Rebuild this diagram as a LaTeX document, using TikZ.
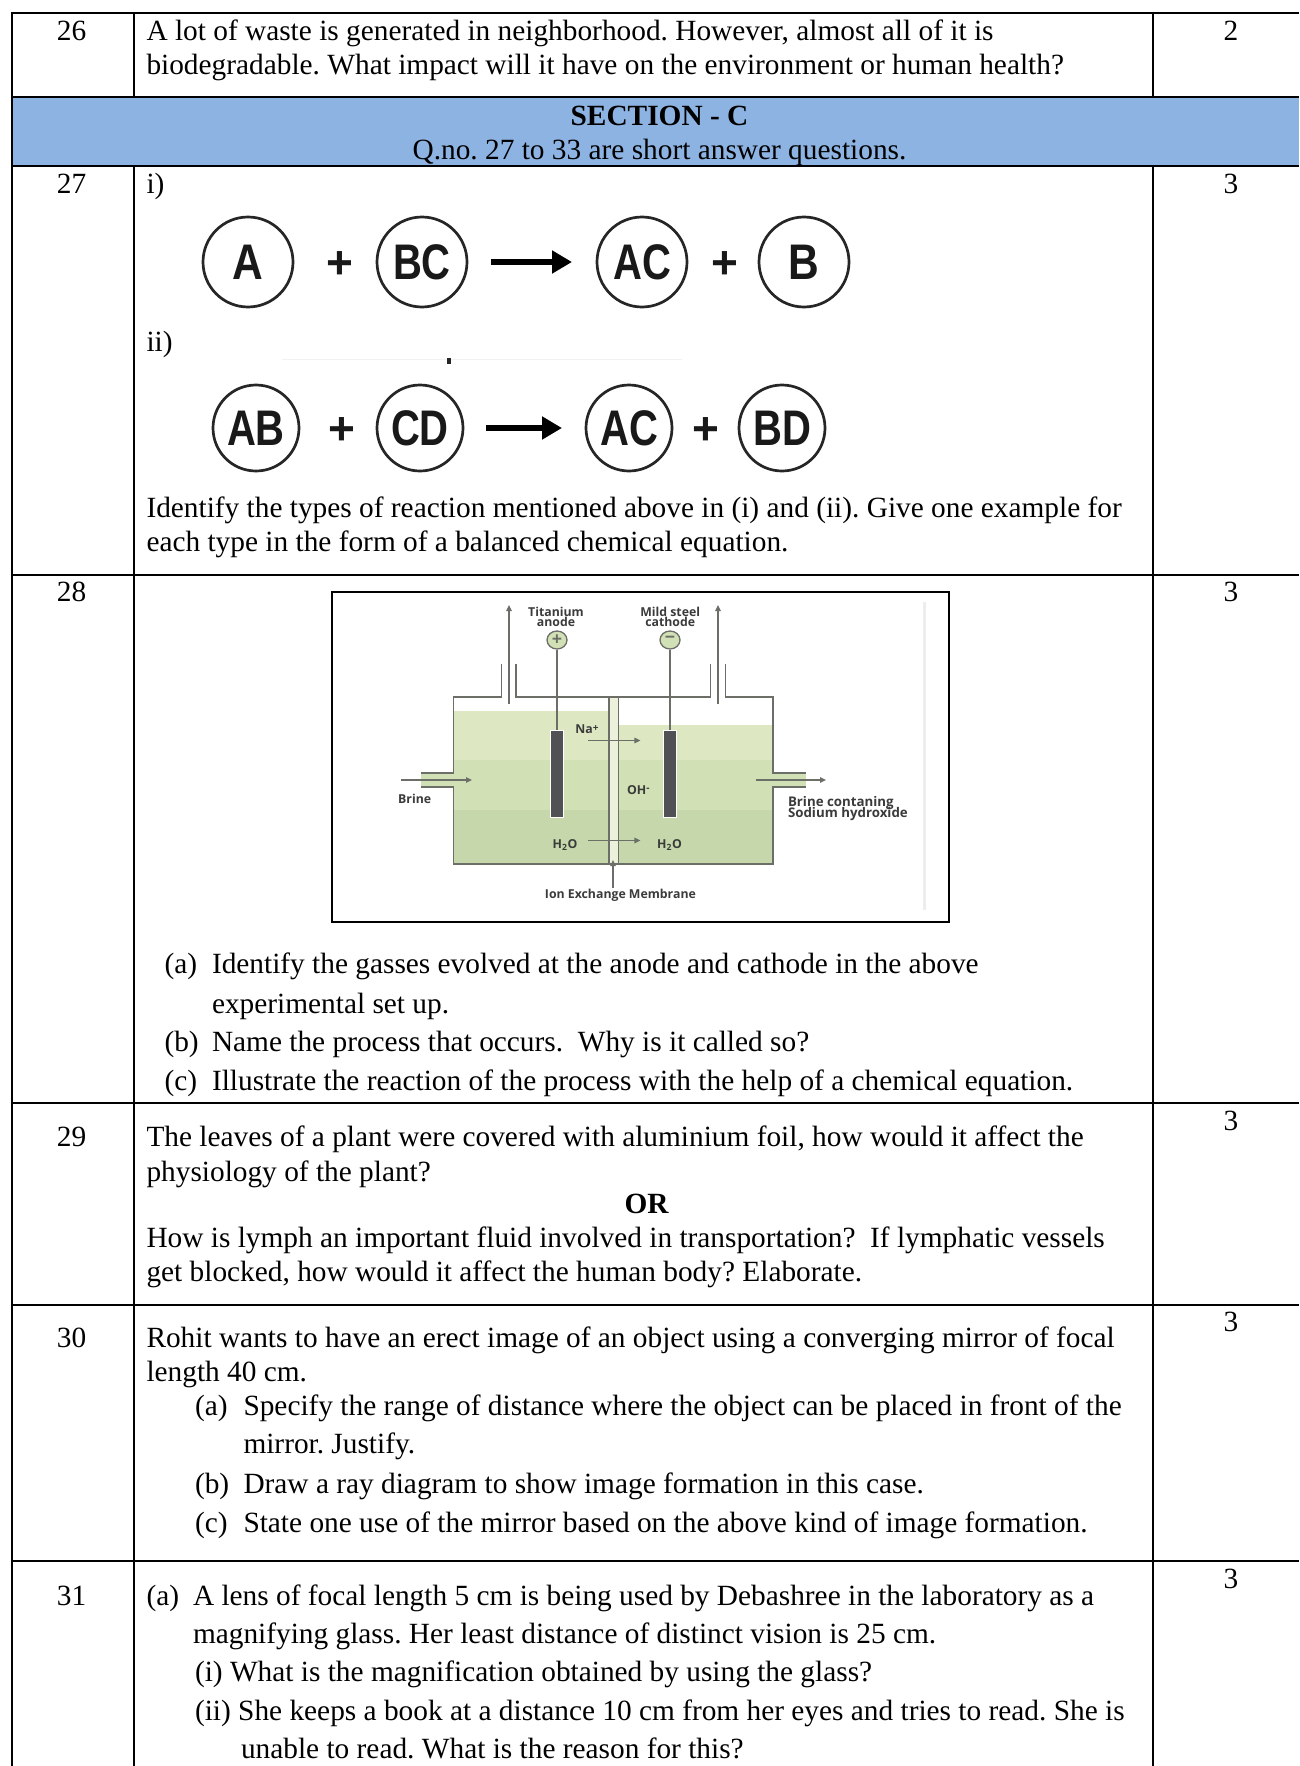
\documentclass[tikz,border=0pt]{standalone}
\usepackage{fontspec}
\setmainfont{Liberation Serif}
\newfontfamily\labfont{Open Sans}
\newfontfamily\circfont{Liberation Sans}
\usetikzlibrary{arrows.meta,shapes.geometric}
\definecolor{secblue}{HTML}{8DB3E2}
\definecolor{liqa}{HTML}{DDE8C3}
\definecolor{liqb}{HTML}{D2E0B6}
\definecolor{liqc}{HTML}{C6D7AB}
\definecolor{tankline}{HTML}{6B6F68}
\definecolor{labgrey}{HTML}{3A3C3A}
\definecolor{elec}{HTML}{505055}
\tikzset{
  body/.style={anchor=base west,yshift=-0.7pt,inner sep=0pt,outer sep=0pt,font=\fontsize{29.34}{33}\selectfont\frenchspacing},
  numc/.style={anchor=base,yshift=-0.7pt,inner sep=0pt,outer sep=0pt,font=\fontsize{29.34}{33}\selectfont\frenchspacing},
  rule/.style={line width=2pt,black},
  mol/.style={circle,draw=black!85,line width=2.7pt,inner sep=0pt,minimum size=#1,font=\circfont\bfseries\fontsize{50}{50}\selectfont,text=black!90},
  plus/.style={inner sep=0pt,font=\circfont\bfseries\fontsize{46}{46}\selectfont,text=black!90},
  rarrow/.style={line width=5.5pt,black,-{Triangle[length=20pt,width=22pt]}},
  tank/.style={line width=1.5pt,tankline},
  lab/.style={inner sep=0pt,outer sep=0pt,text=labgrey,font=\labfont\bfseries\fontsize{12.3}{12}\selectfont},
  labwide/.style={lab,anchor=west,font=\labfont\bfseries\fontsize{13.3}{13}\selectfont},
  flow/.style={line width=1.3pt,tankline,-{Triangle[length=6pt,width=5.5pt]}},
  term/.style={ellipse,draw=tankline,line width=1.3pt,fill=liqb,minimum width=20pt,minimum height=18pt,inner sep=0pt,text=tankline,font=\labfont\bfseries\fontsize{18}{18}\selectfont},
  rod/.style={rectangle,draw=white,line width=.8pt,fill=elec,minimum width=13pt,minimum height=87pt,inner sep=0pt},
}
\begin{document}
\begin{tikzpicture}[x=1pt,y=-1pt]
\useasboundingbox (0,0) rectangle (1299,1766);
\fill[white] (0,0) rectangle (1299,1766);
% section band
\fill[secblue] (12,97) rectangle (1299,166);
% rules
\foreach \yy in {13,97,166,575,1103,1305,1561} \draw[rule] (12,\yy) -- (1299,\yy);
\draw[rule] (12,12) -- (12,1766);
\draw[rule] (133.5,12) -- (133.5,97);
\draw[rule] (133.5,166) -- (133.5,1766);
\draw[rule] (1153,12) -- (1153,97);
\draw[rule] (1153,166) -- (1153,1766);
% row 26
\node[numc] (n26) at (71.5,39.5) {26};
\node[numc] (m26) at (1231,39.5) {2};
\node[body] (t26a) at (146.5,39.5) {A lot of waste is generated in neighborhood. However, almost all of it is};
\node[body] (t26b) at (146.5,73.5) {biodegradable. What impact will it have on the environment or human health?};
% section
\node[numc] (sec1) at (659.5,125) {\bfseries SECTION - C};
\node[numc] (sec2) at (659.5,158.5) {Q.no. 27 to 33 are short answer questions.};
% row 27
\node[numc] (n27) at (71.5,192.5) {27};
\node[numc] (m27) at (1231,192.5) {3};
\node[body] (t27i) at (146.5,192.5) {i)};
\node[body] (t27ii) at (146.5,350.5) {ii)};
\node[mol=90pt] (a1) at (248,262) {\scalebox{.85}[1]{A}};
\node[plus] (p1) at (340,265) {+};
\node[mol=90pt] (b1) at (422,262) {\scalebox{.8}[1]{BC}};
\node[mol=90pt] (c1) at (642,262) {\scalebox{.8}[1]{AC}};
\node[plus] (p2) at (725,265) {+};
\node[mol=90pt] (d1) at (804,262) {\scalebox{.85}[1]{B}};
\coordinate (r1s) at (491,262);
\coordinate (r1e) at (572,262);
\draw[rarrow] (r1s) -- (r1e);
\node[mol=86pt] (a2) at (256,428) {\scalebox{.8}[1]{AB}};
\node[plus] (p3) at (342,431) {+};
\node[mol=86pt] (b2) at (420,428) {\scalebox{.8}[1]{CD}};
\node[mol=86pt] (c2) at (629,428) {\scalebox{.8}[1]{AC}};
\node[plus] (p4) at (706,431) {+};
\node[mol=86pt] (d2) at (782,428) {\scalebox{.8}[1]{BD}};
\coordinate (r2s) at (486,428);
\coordinate (r2e) at (562,428);
\draw[rarrow] (r2s) -- (r2e);
\draw[black!5,line width=1pt] (282,359) -- (682,359);
\fill[black!85] (447,358) rectangle (450.5,363.5);
\node[body] (t27c) at (146.5,517) {Identify the types of reaction mentioned above in (i) and (ii). Give one example for};
\node[body] (t27d) at (146.5,551) {each type in the form of a balanced chemical equation.};
% row 28 diagram
\node[numc] (n28) at (71.5,601) {28};
\node[numc] (m28) at (1231,601) {3};
\draw[rule] (332,592) rectangle (949,922);
\draw[black!7,line width=3pt] (924,602) -- (924,910);
% liquid
\fill[liqa] (453.5,711) rectangle (609,760);
\fill[liqa] (618.4,725) rectangle (773,760);
\fill[liqb] (453.5,760) rectangle (773,810);
\fill[liqc] (453.5,810) rectangle (773,864);
\fill[liqb] (421.2,773) rectangle (453.5,787);
\fill[liqb] (773,773) rectangle (805.7,787);
\fill[liqa!60!white] (609,697) rectangle (618.4,864);
% tank outline
\draw[tank] (501.6,664) -- (501.6,697) -- (453.5,697) -- (453.5,773) -- (421.2,773);
\draw[tank] (421.2,787) -- (453.5,787) -- (453.5,864) -- (773,864) -- (773,787) -- (805.7,787);
\draw[tank] (805.7,773) -- (773,773) -- (773,697) -- (725.3,697) -- (725.3,664);
\draw[tank] (516,664) -- (516,697) -- (710.6,697) -- (710.6,664);
\draw[tank,line width=1.2pt] (609,697) -- (609,864);
\draw[tank,line width=1.2pt] (618.4,697) -- (618.4,864);
% electrodes and terminals
\node[rod] (rodl) at (557,773.5) {};
\node[rod] (rodr) at (670,773.5) {};
\node[term] (anode) at (557,640) {+};
\node[term] (cathode) at (670,640) {\raisebox{1pt}{−}};
\draw[tank] (anode) -- (rodl);
\draw[tank] (cathode) -- (rodr);
% gas outlets
\coordinate (gl0) at (509,704); \coordinate (gl1) at (509,605);
\coordinate (gr0) at (718,704); \coordinate (gr1) at (718,605);
\draw[flow] (gl0) -- (gl1);
\draw[flow] (gr0) -- (gr1);
% flows
\coordinate (bi0) at (400.8,780); \coordinate (bi1) at (472,780);
\coordinate (bo0) at (755.5,780); \coordinate (bo1) at (826,780);
\draw[flow] (bi0) -- (bi1);
\draw[flow] (bo0) -- (bo1);
\coordinate (na0) at (588,740.5); \coordinate (na1) at (640.4,740.5);
\coordinate (hh0) at (588,840.5); \coordinate (hh1) at (640.4,840.5);
\draw[flow] (na0) -- (na1);
\draw[flow] (hh0) -- (hh1);
\coordinate (ie0) at (613,888); \coordinate (ie1) at (613,860);
\draw[flow] (ie0) -- (ie1);
% diagram labels
\node[lab] (ti1) at (556,611.5) {Titanium};
\node[lab] (ti2) at (556,621.5) {anode};
\node[lab] (ms1) at (670.2,611.5) {Mild steel};
\node[lab] (ms2) at (670.2,621.5) {cathode};
\node[lab] (nal) at (587,729.5) {Na\raisebox{2.5pt}{\fontsize{10}{10}\selectfont +}};
\node[lab] (ohl) at (638.4,790) {OH\raisebox{2.5pt}{\fontsize{10}{10}\selectfont -}};
\node[lab] (h2a) at (565,845) {H\textsubscript{2}O};
\node[lab] (h2b) at (669.5,845) {H\textsubscript{2}O};
\node[lab] (brl) at (414.7,799) {Brine};
\node[labwide] (bc1) at (788,803) {Brine contaning};
\node[labwide] (bc2) at (788,814.5) {Sodium hydroxide};
\node[lab] (iem) at (620.4,895) {Ion Exchange Membrane};
% row 28 text
\node[body] (q28a) at (164.5,973) {(a)};
\node[body] (t28a) at (212,973) {Identify the gasses evolved at the anode and cathode in the above};
\node[body] (t28b) at (212,1012.5) {experimental set up.};
\node[body] (q28b) at (164.5,1050.5) {(b)};
\node[body] (t28c) at (212,1050.5) {Name the process that occurs.\ \ Why is it called so?};
\node[body] (q28c) at (164.5,1090) {(c)};
\node[body] (t28d) at (212,1090) {Illustrate the reaction of the process with the help of a chemical equation.};
% row 29
\node[numc] (n29) at (71.5,1145.5) {29};
\node[numc] (m29) at (1231,1129.5) {3};
\node[body] (t29a) at (146.5,1145.5) {The leaves of a plant were covered with aluminium foil, how would it affect the};
\node[body] (t29b) at (146.5,1180.5) {physiology of the plant?};
\node[numc] (or29) at (646.5,1213) {\bfseries OR};
\node[body] (t29c) at (146.5,1247) {How is lymph an important fluid involved in transportation?\ \ If lymphatic vessels};
\node[body] (t29d) at (146.5,1280.5) {get blocked, how would it affect the human body? Elaborate.};
% row 30
\node[numc] (n30) at (71.5,1347) {30};
\node[numc] (m30) at (1231,1331) {3};
\node[body] (t30a) at (146.5,1347) {Rohit wants to have an erect image of an object using a converging mirror of focal};
\node[body] (t30b) at (146.5,1381) {length 40 cm.};
\node[body] (q30a) at (195,1414.5) {(a)};
\node[body] (t30c) at (243.5,1414.5) {Specify the range of distance where the object can be placed in front of the};
\node[body] (t30d) at (243.5,1453) {mirror. Justify.};
\node[body] (q30b) at (195,1492.5) {(b)};
\node[body] (t30e) at (243.5,1492.5) {Draw a ray diagram to show image formation in this case.};
\node[body] (q30c) at (195,1531.5) {(c)};
\node[body] (t30f) at (243.5,1531.5) {State one use of the mirror based on the above kind of image formation.};
% row 31
\node[numc] (n31) at (71.5,1604.5) {31};
\node[numc] (m31) at (1231,1588) {3};
\node[body] (q31a) at (146.5,1604.5) {(a)};
\node[body] (t31a) at (193,1604.5) {A lens of focal length 5 cm is being used by Debashree in the laboratory as a};
\node[body] (t31b) at (193,1643) {magnifying glass. Her least distance of distinct vision is 25 cm.};
\node[body] (t31c) at (195,1681) {(i) What is the magnification obtained by using the glass?};
\node[body] (t31d) at (195,1720) {(ii) She keeps a book at a distance 10 cm from her eyes and tries to read. She is};
\node[body] (t31e) at (241,1757.5) {unable to read. What is the reason for this?};
\end{tikzpicture}
\end{document}
